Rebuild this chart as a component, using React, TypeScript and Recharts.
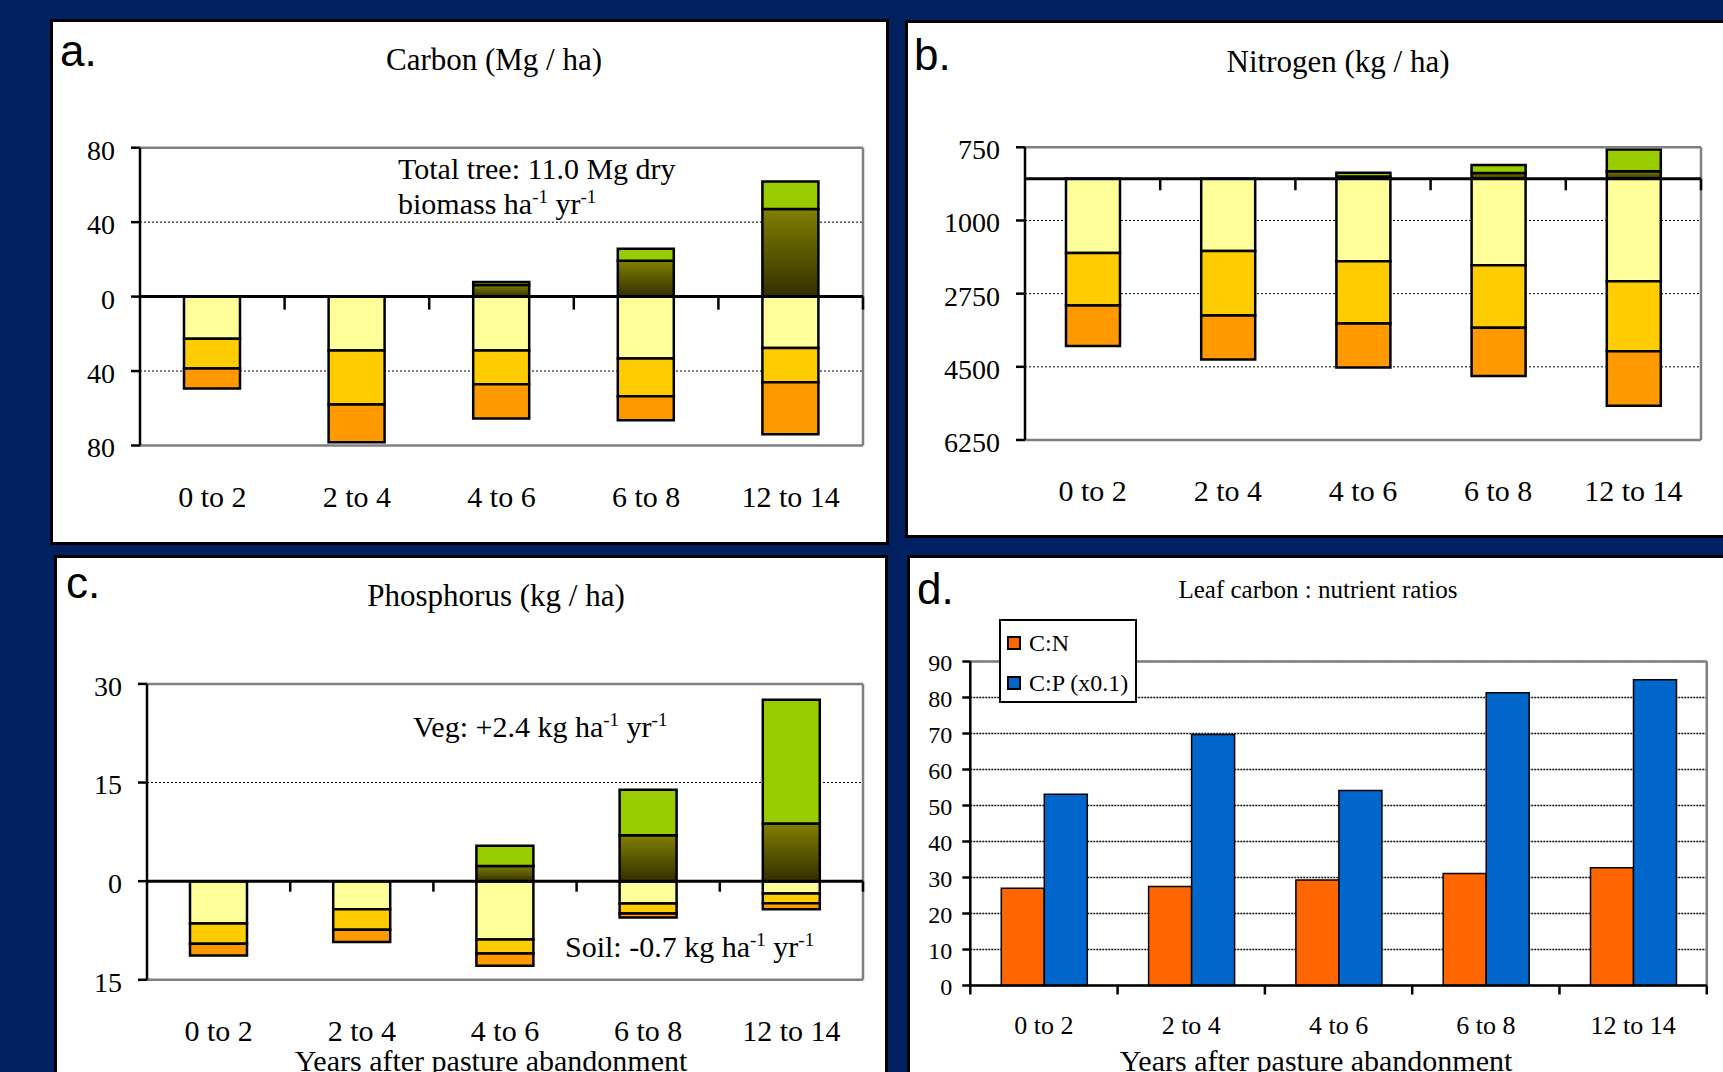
import { BarChart, Bar, XAxis, YAxis, CartesianGrid, ReferenceLine, Legend } from 'recharts';

const categories = ['0 to 2', '2 to 4', '4 to 6', '6 to 8', '12 to 14'];

// Carbon (Mg / ha): soil layers are losses (negative), vegetation gains (positive)
const carbonSoil1 = [-22.6, -28.9, -28.9, -33.2, -27.6];
const carbonSoil2 = [-16.0, -29.1, -18.2, -20.3, -18.4];
const carbonSoil3 = [-10.8, -20.2, -18.4, -12.9, -27.9];
const carbonWood = [0, 0, 6.2, 19.3, 47.1];
const carbonLeaf = [0, 0, 1.6, 6.4, 14.8];

// Nitrogen (kg / ha)
const nitrogenSoil1 = [-1775, -1733, -1977, -2069, -2456];
const nitrogenSoil2 = [-1261, -1539, -1488, -1497, -1673];
const nitrogenSoil3 = [-967, -1051, -1051, -1152, -1304];
const nitrogenWood = [0, 0, 50, 135, 177];
const nitrogenLeaf = [0, 0, 93, 193, 521];

// Phosphorus (kg / ha)
const phosSoil1 = [-6.45, -4.28, -8.88, -3.4, -1.86];
const phosSoil2 = [-3.05, -3.1, -2.11, -1.5, -1.49];
const phosSoil3 = [-1.8, -1.86, -1.86, -0.62, -0.93];
const phosWood = [0, 0, 2.32, 6.97, 8.77];
const phosLeaf = [0, 0, 3.05, 6.93, 18.83];

// Leaf carbon : nutrient ratios
const ratioCN = [27.0, 27.5, 29.3, 31.1, 32.7];
const ratioCP = [53.1, 69.7, 54.2, 81.3, 84.9];

const carbonTicks = [-80, -40, 0, 40, 80];
const nitrogenTicks = [-6250, -4500, -2750, -1000, 750];
const phosTicks = [-15, 0, 15, 30];
const ratioTicks = [0, 10, 20, 30, 40, 50, 60, 70, 80, 90];
// category boundaries, on a 0..5 scale that runs under the category axis
const boundaries = [0, 1, 2, 3, 4, 5];

const SERIF = '"Liberation Serif", "Times New Roman", serif';
const SANS = '"Liberation Sans", Arial, sans-serif';
const NAVY = '#002060';
const FRAME = '#808080';
const BORDER = 3;
const Y_W = 60;
const X_H = 60;

type Box = { x: number; y: number; w: number; h: number };
type Plot = { x1: number; y1: number; x2: number; y2: number };

const boxA: Box = { x: 50, y: 19, w: 839, h: 526 };
const boxB: Box = { x: 905, y: 20, w: 840, h: 518 };
const boxC: Box = { x: 54, y: 555, w: 834, h: 540 };
const boxD: Box = { x: 907, y: 555, w: 840, h: 540 };

const plotA: Plot = { x1: 140, y1: 147.7, x2: 863, y2: 445.5 };
const plotB: Plot = { x1: 1025, y1: 147.3, x2: 1701, y2: 440 };
const plotC: Plot = { x1: 147, y1: 683.9, x2: 863, y2: 979.8 };
const plotD: Plot = { x1: 970.3, y1: 661.5, x2: 1706.8, y2: 985.5 };

const chartMargin = (box: Box, plot: Plot) => {
  const ix = box.x + BORDER;
  const iy = box.y + BORDER;
  return {
    left: plot.x1 - ix - Y_W,
    top: plot.y1 - iy,
    right: ix + box.w - 2 * BORDER - plot.x2,
    bottom: iy + box.h - 2 * BORDER - plot.y2 - X_H,
  };
};

const boxStyle = (box: Box): React.CSSProperties => ({
  position: 'absolute',
  left: box.x,
  top: box.y,
  width: box.w,
  height: box.h,
  background: '#fff',
  border: `${BORDER}px solid #000`,
  boxSizing: 'border-box',
  overflow: 'hidden',
});

const abs = (v: number) => String(Math.abs(v));

interface StackPanelProps {
  id: string;
  box: Box;
  plot: Plot;
  soil1: number[];
  soil2: number[];
  soil3: number[];
  wood: number[];
  leaf: number[];
  ticks: number[];
  tickLen: number;
  barSize: number;
}

const StackPanel = ({ id, box, plot, soil1, soil2, soil3, wood, leaf, ticks, tickLen, barSize }: StackPanelProps) => {
  const data = categories.map((cat, i) => ({
    cat,
    pos: i + 0.5,
    soil1: soil1[i],
    soil2: soil2[i],
    soil3: soil3[i],
    wood: wood[i],
    leaf: leaf[i],
  }));
  const lo = ticks[0];
  const hi = ticks[ticks.length - 1];
  const gid = `olive-${id}`;
  return (
    <div style={boxStyle(box)}>
      <BarChart
        width={box.w - 2 * BORDER}
        height={box.h - 2 * BORDER}
        data={data}
        margin={chartMargin(box, plot)}
        stackOffset="sign"
        barSize={barSize}
      >
        <defs>
          <linearGradient id={gid} x1="0" y1="0" x2="0" y2="1">
            <stop offset="0%" stopColor="#808000" />
            <stop offset="100%" stopColor="#332f00" />
          </linearGradient>
        </defs>
        <CartesianGrid vertical={false} stroke="#000" strokeDasharray="2 2" />
        <XAxis
          dataKey="cat"
          axisLine={false}
          tickLine={false}
          tickSize={0}
          tickMargin={40}
          height={X_H}
          interval={0}
          tick={{ fill: '#000', fontSize: 30, fontFamily: SERIF }}
        />
        <XAxis xAxisId="n" dataKey="pos" type="number" domain={[0, 5]} hide allowDataOverflow />
        <YAxis
          domain={[lo, hi]}
          ticks={ticks}
          interval={0}
          width={Y_W}
          allowDataOverflow
          axisLine={{ stroke: '#000', strokeWidth: 2.5 }}
          tickLine={{ stroke: '#000', strokeWidth: 2.5 }}
          tickSize={9}
          tickMargin={16}
          tickFormatter={abs}
          tick={{ fill: '#000', fontSize: 28, fontFamily: SERIF, dy: 2 }}
        />
        <Bar dataKey="soil1" stackId="s" fill="#ffff99" stroke="#000" strokeWidth={2.5} isAnimationActive={false} />
        <Bar dataKey="soil2" stackId="s" fill="#ffcc00" stroke="#000" strokeWidth={2.5} isAnimationActive={false} />
        <Bar dataKey="soil3" stackId="s" fill="#ff9900" stroke="#000" strokeWidth={2.5} isAnimationActive={false} />
        <Bar dataKey="wood" stackId="s" fill={`url(#${gid})`} stroke="#000" strokeWidth={2.5} isAnimationActive={false} />
        <Bar dataKey="leaf" stackId="s" fill="#99cc00" stroke="#000" strokeWidth={2.5} isAnimationActive={false} />
        <ReferenceLine y={hi} stroke={FRAME} strokeWidth={2.5} />
        <ReferenceLine y={lo} stroke={FRAME} strokeWidth={2.5} />
        <ReferenceLine xAxisId="n" x={5} stroke={FRAME} strokeWidth={2.5} />
        <ReferenceLine y={0} stroke="#000" strokeWidth={3} />
        {boundaries.slice(1).map((b) => (
          <ReferenceLine
            key={b}
            xAxisId="n"
            segment={[{ x: b, y: 0 }, { x: b, y: -tickLen }]}
            stroke="#000"
            strokeWidth={2.5}
          />
        ))}
      </BarChart>
    </div>
  );
};

const RatioLegend = (props: any) => {
  const items = props.payload || [];
  return (
    <div
      style={{
        width: 138,
        height: 84,
        boxSizing: 'border-box',
        border: '2px solid #000',
        background: '#fff',
        paddingTop: 2,
        paddingLeft: 6,
        fontFamily: SERIF,
        fontSize: 24,
        color: '#000',
      }}
    >
      {items.map((it: any) => (
        <div key={it.value} style={{ height: 40, display: 'flex', alignItems: 'center' }}>
          <span
            style={{
              display: 'inline-block',
              width: 14,
              height: 14,
              boxSizing: 'border-box',
              border: '2px solid #000',
              background: it.color,
              marginRight: 8,
            }}
          />
          <span style={{ lineHeight: '40px', whiteSpace: 'nowrap' }}>{it.value}</span>
        </div>
      ))}
    </div>
  );
};

const RatioPanel = () => {
  const data = categories.map((cat, i) => ({ cat, pos: i + 0.5, cn: ratioCN[i], cp: ratioCP[i] }));
  const ix = boxD.x + BORDER;
  const iy = boxD.y + BORDER;
  return (
    <div style={boxStyle(boxD)}>
      <BarChart
        width={boxD.w - 2 * BORDER}
        height={boxD.h - 2 * BORDER}
        data={data}
        margin={chartMargin(boxD, plotD)}
        barSize={43}
        barGap={0}
      >
        <CartesianGrid vertical={false} stroke="#111" strokeWidth={1.6} strokeDasharray="2 1" />
        <XAxis
          dataKey="cat"
          axisLine={{ stroke: '#000', strokeWidth: 2.5 }}
          tickLine={false}
          tickSize={0}
          tickMargin={30}
          height={X_H}
          interval={0}
          tick={{ fill: '#000', fontSize: 26, fontFamily: SERIF }}
        />
        <XAxis xAxisId="n" dataKey="pos" type="number" domain={[0, 5]} hide allowDataOverflow />
        <YAxis
          domain={[0, 90]}
          ticks={ratioTicks}
          interval={0}
          width={Y_W}
          axisLine={{ stroke: '#000', strokeWidth: 2.5 }}
          tickLine={{ stroke: '#000', strokeWidth: 2.5 }}
          tickSize={8}
          tickMargin={10}
          tick={{ fill: '#000', fontSize: 24, fontFamily: SERIF, dy: 1 }}
        />
        <Legend
          layout="vertical"
          align="center"
          verticalAlign="middle"
          content={RatioLegend}
          wrapperStyle={{ left: 999 - ix, top: 619.3 - iy, width: 138, height: 84 }}
        />
        <Bar dataKey="cn" name="C:N" fill="#ff6600" stroke="#000" strokeWidth={1.5} isAnimationActive={false} />
        <Bar dataKey="cp" name="C:P (x0.1)" fill="#0066cc" stroke="#000" strokeWidth={1.5} isAnimationActive={false} />
        <ReferenceLine y={90} stroke={FRAME} strokeWidth={2.5} />
        <ReferenceLine xAxisId="n" x={5} stroke={FRAME} strokeWidth={2.5} />
        {boundaries.map((b) => (
          <ReferenceLine
            key={b}
            xAxisId="n"
            ifOverflow="visible"
            segment={[{ x: b, y: 0 }, { x: b, y: -2.5 }]}
            stroke="#000"
            strokeWidth={2.5}
          />
        ))}
      </BarChart>
    </div>
  );
};

const Sup = ({ children }: { children: string }) => (
  <tspan dy={-11} fontSize={19}>
    {children}
  </tspan>
);

const Labels = () => (
  <svg
    width={1723}
    height={1072}
    style={{ position: 'absolute', left: 0, top: 0, pointerEvents: 'none' }}
  >
    <g fontFamily={SANS} fontSize={44} fill="#000">
      <text x={60} y={66}>a.</text>
      <text x={914} y={70}>b.</text>
      <text x={66} y={598}>c.</text>
      <text x={917} y={604}>d.</text>
    </g>
    <g fontFamily={SERIF} fill="#000">
      <text x={494} y={70} fontSize={31} textAnchor="middle">Carbon (Mg / ha)</text>
      <text x={1338} y={72} fontSize={31} textAnchor="middle">Nitrogen (kg / ha)</text>
      <text x={496} y={606} fontSize={31} textAnchor="middle">Phosphorus (kg / ha)</text>
      <text x={1318} y={598} fontSize={25} textAnchor="middle">Leaf carbon : nutrient ratios</text>

      <text x={398} y={179} fontSize={30}>Total tree: 11.0 Mg dry</text>
      <text x={398} y={214} fontSize={30}>
        biomass ha<Sup>-1</Sup>
        <tspan dy={11}> yr</tspan>
        <Sup>-1</Sup>
      </text>

      <text x={413} y={737} fontSize={30}>
        Veg: +2.4 kg ha<Sup>-1</Sup>
        <tspan dy={11}> yr</tspan>
        <Sup>-1</Sup>
      </text>
      <text x={565} y={957} fontSize={30}>
        Soil: -0.7 kg ha<Sup>-1</Sup>
        <tspan dy={11}> yr</tspan>
        <Sup>-1</Sup>
      </text>

      <text x={491} y={1071} fontSize={30} textAnchor="middle">Years after pasture abandonment</text>
      <text x={1316} y={1071} fontSize={30} textAnchor="middle">Years after pasture abandonment</text>
    </g>
  </svg>
);

export default function App() {
  return (
    <div
      style={{
        position: 'absolute',
        left: 0,
        top: 0,
        width: 1723,
        height: 1072,
        background: NAVY,
        overflow: 'hidden',
      }}
    >
      <StackPanel
        id="a"
        box={boxA}
        plot={plotA}
        soil1={carbonSoil1}
        soil2={carbonSoil2}
        soil3={carbonSoil3}
        wood={carbonWood}
        leaf={carbonLeaf}
        ticks={carbonTicks}
        tickLen={7}
        barSize={56}
      />
      <StackPanel
        id="b"
        box={boxB}
        plot={plotB}
        soil1={nitrogenSoil1}
        soil2={nitrogenSoil2}
        soil3={nitrogenSoil3}
        wood={nitrogenWood}
        leaf={nitrogenLeaf}
        ticks={nitrogenTicks}
        tickLen={277}
        barSize={54}
      />
      <StackPanel
        id="c"
        box={boxC}
        plot={plotC}
        soil1={phosSoil1}
        soil2={phosSoil2}
        soil3={phosSoil3}
        wood={phosWood}
        leaf={phosLeaf}
        ticks={phosTicks}
        tickLen={1.6}
        barSize={57}
      />
      <RatioPanel />
      <Labels />
    </div>
  );
}
